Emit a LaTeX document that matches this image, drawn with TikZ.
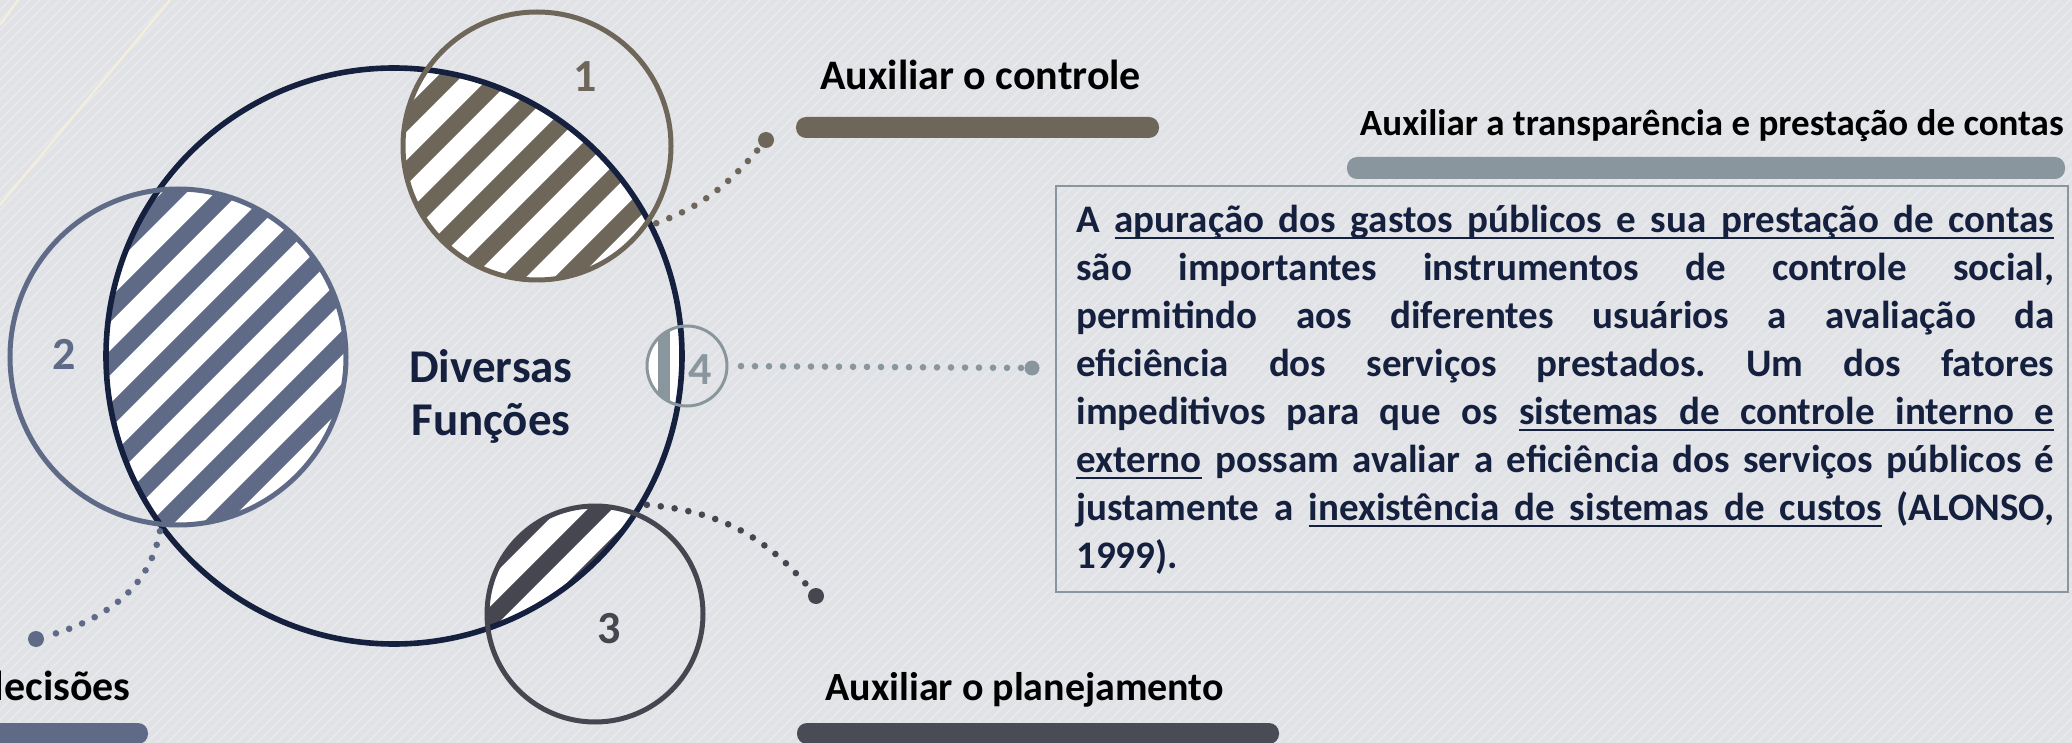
\documentclass[tikz,border=0pt]{standalone}
\usepackage{fontspec}
\setmainfont{Carlito}
\usetikzlibrary{backgrounds}

\definecolor{navy}{HTML}{14203E}
\definecolor{brownc}{HTML}{6F665A}
\definecolor{slatec}{HTML}{5E6A86}
\definecolor{darkc}{HTML}{45464F}
\definecolor{grayc}{HTML}{8A969E}
\definecolor{barc}{HTML}{4A4C55}
\definecolor{bgc}{HTML}{E1E2E6}
\definecolor{cream}{HTML}{F4EEDD}

% underlined word and underlined space
\newcommand{\ulw}[1]{\setbox0=\hbox{#1}\rlap{\vrule height -2.2pt depth 3.2pt width \wd0}\box0\relax}
\newcommand{\uls}{\leaders\hrule height -2.2pt depth 3.2pt\hskip\fontdimen2\font plus\fontdimen3\font minus\fontdimen4\font\relax}

\tikzset{
  ring/.style={circle, draw, line width=2.5pt, inner sep=0pt, outer sep=0pt},
  num/.style={inner sep=0pt, font=\fontsize{23}{23}\selectfont\bfseries},
  head/.style={inner sep=0pt, text=black},
  bar/.style={rounded corners=5pt, inner sep=0pt, minimum height=10.5pt},
  dots/.style={line width=3.3pt, line cap=round, dash pattern=on 0pt off 7pt},
  bigdot/.style={circle, fill, inner sep=0pt, minimum size=8pt},
  hatch/.style={line width=8.5pt}
}

\begin{document}
\begin{tikzpicture}[x=0.5pt,y=-0.5pt]
\useasboundingbox (0,0) rectangle (2072,743);

% circles
\node[ring, draw=navy, line width=2.8pt, minimum size=288pt] (main) at (394,356) {};
\node[ring, draw=brownc, minimum size=134pt] (c1) at (537,146) {};
\node[ring, draw=slatec, minimum size=168pt] (c2) at (178,357) {};
\node[ring, draw=darkc, minimum size=108pt] (c3) at (595,614) {};
\node[ring, draw=grayc, line width=1.5pt, minimum size=40pt] (c4) at (687,366) {};

\node[num, text=brownc] (n1) at (585,77) {1};
\node[num, text=slatec] (n2) at (64,354) {2};
\node[num, text=darkc] (n3) at (609,629) {3};
\node[num, text=grayc] (n4) at (700,370) {4};
\node[inner sep=0pt, text=navy, align=center, font=\fontsize{23.5}{26.5}\selectfont\bfseries] (title) at (491,396) {Diversas\\Funções};

% background, stripes and hatching
\begin{scope}[on background layer]
\fill[bgc] (0,0) rectangle (2072,743);
\foreach \k in {0,...,290}
  \draw[white, opacity=0.25, line width=0.8pt] (10*\k,0) -- ++(-743,743);
\draw[cream, line width=1.2pt] (0,25) -- (18,0);
\draw[cream, line width=1.2pt] (0,205) -- (170,0);
\foreach \c/\r/\col in {c1/67pt/brownc, c2/84pt/slatec, c3/54pt/darkc} {
  \begin{scope}
    \clip (\c.center) circle[radius=\r];
    \clip (main.center) circle[radius=144pt];
    \fill[white] (\c.center) circle[radius=\r];
    \foreach \k in {0,...,30}
      \draw[\col, hatch] (49+53*\k,0) -- ++(-743,743);
  \end{scope}
}
\begin{scope}
  \clip (c4.center) circle[radius=20pt];
  \clip (main.center) circle[radius=144pt];
  \fill[white] (c4.center) circle[radius=20pt];
  \fill[grayc] (658,300) rectangle (670,430);
\end{scope}
\end{scope}

% headings and bars
\node[head, anchor=base west, font=\fontsize{21}{21}\selectfont\bfseries] (ctrl) at (820,90) {Auxiliar o controle};
\node[bar, fill=brownc, minimum width=181.5pt] (barctrl) at (977.5,127.5) {};
\node[head, anchor=base east, font=\fontsize{18.5}{18.5}\selectfont\bfseries] (transp) at (2064,136) {Auxiliar a transparência e prestação de contas};
\node[bar, fill=grayc, minimum width=359pt, minimum height=11pt] (bartransp) at (1706,168) {};
\node[head, anchor=base west, font=\fontsize{20}{20}\selectfont\bfseries] (plan) at (825,700) {Auxiliar o planejamento};
\node[bar, fill=barc, minimum width=241pt] (barplan) at (1038,733.5) {};
\node[head, anchor=base east, font=\fontsize{21}{21}\selectfont\bfseries] (dec) at (131,700) {decisões};
\node[bar, fill=slatec, minimum width=99pt] (bardec) at (49,733.5) {};

% text box
\node[draw=grayc, line width=1pt, minimum width=506pt, minimum height=203pt, inner sep=0pt] (frame) at (1562,389) {};
\node[inner sep=0pt, anchor=base west, text width=489pt, align=justify, text=navy,
  font=\fontsize{19.5}{24}\selectfont\bfseries] (txt) at (1076,233) {\tolerance=10000\frenchspacing
A \ulw{apuração}\uls\ulw{dos}\uls\ulw{gastos}\uls\ulw{públicos}\uls\ulw{e}\uls\ulw{sua}\uls\ulw{prestação}\uls\ulw{de}\uls\ulw{contas}\linebreak
são importantes instrumentos de controle social,\linebreak
permitindo aos diferentes usuários a avaliação da\linebreak
eficiência dos serviços prestados. Um dos fatores\linebreak
impeditivos para que os \ulw{sistemas}\uls\ulw{de}\uls\ulw{controle}\uls\ulw{interno}\uls\ulw{e}\linebreak
\ulw{externo} possam avaliar a eficiência dos serviços públicos é\linebreak
justamente a \ulw{inexistência}\uls\ulw{de}\uls\ulw{sistemas}\uls\ulw{de}\uls\ulw{custos} (ALONSO,\linebreak
1999).};

% dotted connectors
\node[bigdot, fill=brownc] (d1) at (766,140) {};
\node[bigdot, fill=darkc] (d2) at (816,596) {};
\node[bigdot, fill=slatec] (d3) at (36,639) {};
\node[bigdot, fill=grayc, minimum size=7.5pt] (d4) at (1032,368) {};
\draw[dots, brownc, shorten <=3pt] (main.27) to[out=20, in=-130] (d1);
\draw[dots, darkc, shorten <=3pt] (main.-31) to[out=-5, in=130] (d2);
\draw[dots, slatec, shorten <=3pt] (main.216) to[out=-100, in=15] (d3);
\draw[dots, grayc, shorten <=7pt] (c4.east) -- (d4);
\end{tikzpicture}
\end{document}
